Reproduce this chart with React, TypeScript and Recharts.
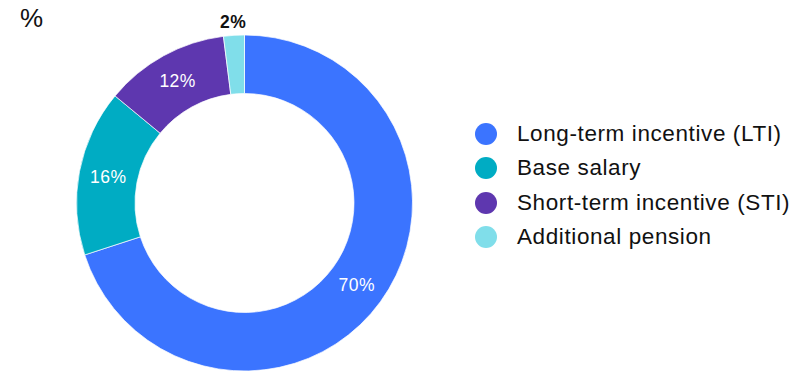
import React from "react";
import { PieChart, Pie, Cell, Legend } from "recharts";

const categories = [
  "Long-term incentive (LTI)",
  "Base salary",
  "Short-term incentive (STI)",
  "Additional pension",
];
const values = [70, 16, 12, 2];
const colors = ["#3B74FF", "#00ACC3", "#5E37AF", "#80DEEA"];
const unitLabel = "%";

const data = categories.map((name, i) => ({ name, value: values[i] }));

const FONT = '"Liberation Sans", Arial, Helvetica, sans-serif';
const RAD = Math.PI / 180;

const renderLabel = (props: any) => {
  const { cx, cy, midAngle, innerRadius, outerRadius, value } = props;
  const small = value < 5;
  const r = small ? outerRadius + 13 : (innerRadius + outerRadius) / 2;
  const x = cx + r * Math.cos(-midAngle * RAD);
  const y = cy + r * Math.sin(-midAngle * RAD);
  return (
    <text
      x={x}
      y={y}
      fill={small ? "#111" : "#fff"}
      fontWeight={small ? 700 : 400}
      fontSize={17.5}
      letterSpacing={0.5}
      fontFamily={FONT}
      textAnchor="middle"
      dominantBaseline="central"
    >
      {`${value}%`}
    </text>
  );
};

const LegendContent = () => (
  <div style={{ fontFamily: FONT }}>
    {categories.map((c, i) => (
      <div
        key={c}
        style={{ display: "flex", alignItems: "center", height: 34.3 }}
      >
        <svg width={22} height={22} style={{ marginRight: 20, flexShrink: 0 }}>
          <circle cx={11} cy={11} r={11} fill={colors[i]} />
        </svg>
        <span
          style={{
            fontSize: 22.5,
            letterSpacing: 0.6,
            color: "#111",
            whiteSpace: "nowrap",
          }}
        >
          {c}
        </span>
      </div>
    ))}
  </div>
);

export default function App() {
  return (
    <div
      style={{
        position: "absolute",
        left: 0,
        top: 0,
        width: 794,
        height: 371,
        background: "#fff",
        overflow: "hidden",
      }}
    >
      <div
        style={{
          position: "absolute",
          left: 20,
          top: 3,
          fontFamily: FONT,
          fontSize: 26,
          color: "#111",
          lineHeight: "30px",
        }}
      >
        {unitLabel}
      </div>
      <PieChart width={794} height={371} margin={{ top: 0, right: 0, bottom: 0, left: 0 }}>
        <Pie
          data={data}
          dataKey="value"
          nameKey="name"
          cx={244.5}
          cy={203}
          innerRadius={109.5}
          outerRadius={168}
          startAngle={90}
          endAngle={-270}
          stroke="#fff"
          strokeWidth={0.7}
          label={renderLabel}
          labelLine={false}
          isAnimationActive={false}
        >
          {data.map((d, i) => (
            <Cell key={d.name} fill={colors[i]} />
          ))}
        </Pie>
        <Legend
          content={<LegendContent />}
          wrapperStyle={{ left: 475, top: 117, width: 319 }}
        />
      </PieChart>
    </div>
  );
}
